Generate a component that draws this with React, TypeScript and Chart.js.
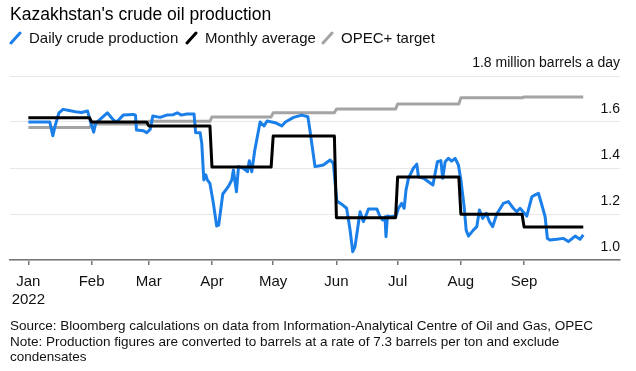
import React, { useEffect, useRef } from 'react';
import { Chart, registerables } from 'chart.js';

Chart.register(...registerables);

// ---- data ----
const monthLabels = ['Jan', 'Feb', 'Mar', 'Apr', 'May', 'Jun', 'Jul', 'Aug', 'Sep'];
const yearLabel = '2022';
// day-of-year (0 = Jan 1) at which each month starts
const monthStartDays = [0, 31, 59, 90, 120, 151, 181, 212, 243];
const lastDay = 272;
const yTickValues = [1.0, 1.2, 1.4, 1.6, 1.8];
const topTickLabel = '1.8 million barrels a day';

// Daily crude production (million barrels a day)
const dailyDays = [
  0, 10.5, 12, 13, 15, 17, 20, 24, 26, 29, 30.5, 32, 33, 35, 38.7, 41.7, 43.3, 46.5, 51.5, 52.5,
  53, 56.4, 58, 59.7, 61, 64.6, 67.8, 71, 73, 75, 77.6, 81.2, 82, 84.2, 85, 86, 87, 87.7, 89, 90.7,
  92.3, 93.3, 95.3, 98, 99.7, 100.5, 102, 103, 105.4, 107.4, 108.3, 109.5, 111, 113.6, 115.5, 117,
  121, 124.2, 126, 130, 134, 137, 138, 140.5, 142.2, 144.6, 147.9, 149.5, 151.2, 154, 156, 157.7,
  159, 160.1, 162.6, 164.2, 165.9, 166.7, 170.8, 172.4, 173.7, 174.8, 175.3, 176, 177.3, 180.2,
  181.4, 183, 184.2, 185.1, 186.3, 188.7, 190.4, 191.2, 193.7, 196.1, 198.3, 199.4, 200.5, 202.2,
  203.1, 204.3, 205.9, 207.5, 209.2, 210.8, 212, 213.6, 214.6, 215.7, 218.1, 219.8, 221.1, 222.7,
  224.4, 226, 227.6, 229.6, 232.8, 235.3, 237.7, 239.4, 241, 244.3, 246.8, 248.4, 250, 251.7,
  253.3, 254.4, 255.7, 259, 262.3, 264.7, 268, 270.4, 272,
];
const dailyValues = [
  1.6, 1.6, 1.54, 1.58, 1.64, 1.655, 1.65, 1.643, 1.641, 1.648, 1.6, 1.556, 1.594, 1.61, 1.64, 1.609, 1.6, 1.63, 1.633, 1.63,
  1.565, 1.562, 1.553, 1.568, 1.626, 1.62, 1.63, 1.632, 1.64, 1.63, 1.635, 1.635, 1.553, 1.553, 1.507, 1.348, 1.37, 1.348, 1.333, 1.246,
  1.148, 1.152, 1.287, 1.319, 1.348, 1.391, 1.297, 1.406, 1.399, 1.384, 1.432, 1.384, 1.478, 1.6, 1.583, 1.604,
  1.597, 1.583, 1.6, 1.62, 1.63, 1.623, 1.565, 1.406, 1.409, 1.413, 1.435, 1.42, 1.256, 1.24, 1.225, 1.13,
  1.036, 1.058, 1.21, 1.167, 1.203, 1.222, 1.222, 1.188, 1.174, 1.188, 1.101, 1.191, 1.188, 1.191,
  1.225, 1.246, 1.225, 1.304, 1.355, 1.399, 1.417, 1.362, 1.355, 1.34, 1.326, 1.377, 1.427, 1.432,
  1.355, 1.427, 1.442, 1.43, 1.442, 1.413, 1.348, 1.232, 1.13, 1.104, 1.13, 1.145, 1.217, 1.181,
  1.203, 1.167, 1.145, 1.2, 1.246, 1.254, 1.225, 1.21, 1.225, 1.191, 1.275, 1.283, 1.29, 1.239,
  1.188, 1.094, 1.087, 1.09, 1.094, 1.08, 1.104, 1.09, 1.109,
];
// Monthly average and OPEC+ target, one value per month (Jan..Sep)
const monthlyAverage = [1.618, 1.6, 1.583, 1.404, 1.539, 1.184, 1.361, 1.199, 1.143];
const opecTarget = [1.576, 1.591, 1.603, 1.622, 1.64, 1.656, 1.678, 1.705, 1.709];

// ---- helpers ----
function monthlySteps(values: number[]) {
  const pts: { x: number; y: number }[] = [];
  values.forEach((v, i) => {
    const start = monthStartDays[i];
    const end = i + 1 < monthStartDays.length ? monthStartDays[i + 1] - 1 : lastDay;
    pts.push({ x: start, y: v }, { x: end, y: v });
  });
  return pts;
}

const FONT = '"Liberation Sans", Arial, Helvetica, sans-serif';

function LegendIcon({ color, left }: { color: string; left: number }) {
  return (
    <svg width={14} height={14} style={{ position: 'absolute', left, top: 31 }}>
      <line x1={2} y1={12} x2={11} y2={2} stroke={color} strokeWidth={3} strokeLinecap="round" />
    </svg>
  );
}

export default function App() {
  const ref = useRef<HTMLCanvasElement>(null);

  useEffect(() => {
    if (!ref.current) return;
    const chart = new Chart(ref.current, {
      type: 'line',
      data: {
        datasets: [
          {
            label: 'Monthly average',
            data: monthlySteps(monthlyAverage),
            borderColor: '#000000',
            borderWidth: 3,
            order: 1,
          },
          {
            label: 'Daily crude production',
            data: dailyDays.map((d, i) => ({ x: d, y: dailyValues[i] })),
            borderColor: '#1b7fe9',
            borderWidth: 3,
            order: 2,
          },
          {
            label: 'OPEC+ target',
            data: monthlySteps(opecTarget),
            borderColor: '#a4a4a4',
            borderWidth: 3,
            order: 3,
          },
        ],
      },
      options: {
        animation: false,
        responsive: false,
        elements: {
          point: { radius: 0, hoverRadius: 0 },
          line: { tension: 0, borderJoinStyle: 'round', borderCapStyle: 'butt' },
        },
        layout: { padding: { left: 10, right: 16, top: 76, bottom: 54 } },
        plugins: { legend: { display: false }, tooltip: { enabled: false } },
        scales: {
          x: {
            type: 'linear',
            min: -9,
            max: 290,
            afterBuildTicks: (axis: any) => {
              axis.ticks = monthStartDays.map((v) => ({ value: v }));
            },
            ticks: {
              autoSkip: false,
              maxRotation: 0,
              padding: 8,
              color: '#111',
              font: { family: FONT, size: 15 },
              callback: (_v: any, i: number) => (i === 0 ? [monthLabels[0], yearLabel] : monthLabels[i]),
            },
            grid: {
              display: true,
              drawOnChartArea: false,
              drawTicks: true,
              tickLength: 5,
              color: '#777',
              lineWidth: 1.5,
            },
            border: { display: true, color: '#777', width: 1.5 },
          },
          y: {
            type: 'linear',
            position: 'right',
            min: 1.0,
            max: 1.8,
            afterBuildTicks: (axis: any) => {
              axis.ticks = yTickValues.map((v) => ({ value: v }));
            },
            ticks: {
              mirror: true,
              padding: 0,
              labelOffset: -12.5,
              color: '#111',
              font: { family: FONT, size: 14 },
              callback: (v: any) => (Number(v) === 1.8 ? topTickLabel : Number(v).toFixed(1)),
            },
            grid: { color: '#e8e8e8', lineWidth: 1, drawTicks: false },
            border: { display: false },
          },
        },
      },
    } as any);
    return () => chart.destroy();
  }, []);

  return (
    <div
      style={{
        position: 'absolute',
        left: 0,
        top: 0,
        width: 636,
        height: 371,
        background: '#fff',
        fontFamily: FONT,
        color: '#111',
        overflow: 'hidden',
      }}
    >
      <canvas ref={ref} width={636} height={371} style={{ position: 'absolute', left: 0, top: 0 }} />
      <div style={{ position: 'absolute', left: 10, top: 4, fontSize: 17.5, lineHeight: '20px', color: '#000', whiteSpace: 'nowrap' }}>
        Kazakhstan's crude oil production
      </div>
      <LegendIcon color="#1b7fe9" left={9} />
      <div style={{ position: 'absolute', left: 29, top: 28, fontSize: 15, lineHeight: '20px', whiteSpace: 'nowrap' }}>
        Daily crude production
      </div>
      <LegendIcon color="#000000" left={185} />
      <div style={{ position: 'absolute', left: 205, top: 28, fontSize: 15, lineHeight: '20px', whiteSpace: 'nowrap' }}>
        Monthly average
      </div>
      <LegendIcon color="#a4a4a4" left={321} />
      <div style={{ position: 'absolute', left: 341, top: 28, fontSize: 15, lineHeight: '20px', whiteSpace: 'nowrap' }}>
        OPEC+ target
      </div>
      <div style={{ position: 'absolute', left: 10, top: 318, fontSize: 13.5, lineHeight: '15.5px', color: '#111', whiteSpace: 'nowrap' }}>
        Source: Bloomberg calculations on data from Information-Analytical Centre of Oil and Gas, OPEC
        <br />
        Note: Production figures are converted to barrels at a rate of 7.3 barrels per ton and exclude
        <br />
        condensates
      </div>
    </div>
  );
}
